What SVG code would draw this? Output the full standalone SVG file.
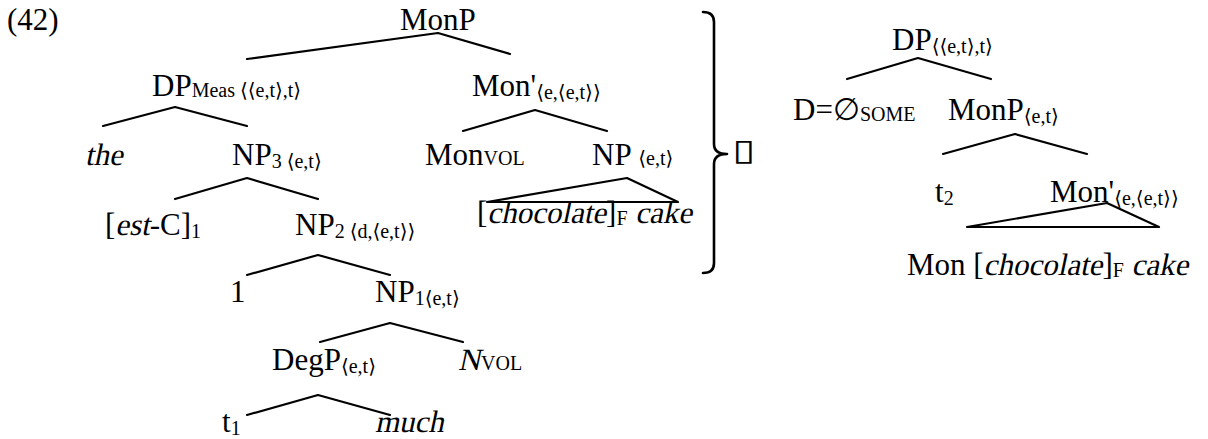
<svg xmlns="http://www.w3.org/2000/svg" width="1208" height="439" viewBox="0 0 1208 439">
<style>
text{font-family:"Liberation Serif","DejaVu Serif",serif;font-size:31px;fill:#000}
.s{font-size:20px}
.ln{stroke:#000;stroke-width:2.2;fill:none;stroke-linecap:round;stroke-linejoin:round}
</style>
<rect width="1208" height="439" fill="#fff"/>
<g id="connectors" class="ln">
<polyline points="247,59 438,33 510,54"/>
<polyline points="103,126 175,107 247,126"/>
<polyline points="463,131 535,110 607,131"/>
<polyline points="175,199 247,178 318,199"/>
<polygon points="487,202 627,178 678,202"/>
<polyline points="247,275 318,255 390,275"/>
<polyline points="320,342 390,323 463,342"/>
<polyline points="247,415 318,395 390,415"/>
<polyline points="847,79 918,58 991,79"/>
<polyline points="943,154 1015,134 1087,154"/>
<polygon points="967,227 1107,203 1159,227"/>
<path id="brace" d="M703,12 Q714,12 714,22 L714,144 Q714,154 727,154 Q714,154 714,164 L714,263 Q714,273 703,273" stroke-width="2.6"/>
</g>
<g id="label42"><text x="7" y="30">(42)</text></g>
<g id="n-monp"><text x="400" y="30">MonP</text></g>
<g id="n-dpmeas"><text x="152" y="96">DP<tspan class="s" dy="1">Meas ⟨⟨e,t⟩,t⟩</tspan></text></g>
<g id="n-monbar"><text x="472" y="96">Mon'<tspan class="s" dy="3">⟨e,⟨e,t⟩⟩</tspan></text></g>
<g id="n-the"><text transform="translate(85,165) skewX(-12)">the</text></g>
<g id="n-np3"><text x="232" y="165">NP<tspan class="s" dy="3">3 ⟨e,t⟩</tspan></text></g>
<g id="n-monvol"><text x="425" y="165">Mon<tspan class="s">VOL</tspan></text></g>
<g id="n-np"><text x="592" y="165">NP <tspan class="s">⟨e,t⟩</tspan></text></g>
<g id="n-choc">
<text x="477" y="223">[</text>
<text transform="translate(487.3,223) skewX(-12)">chocolate</text>
<text x="606.1" y="223">]<tspan class="s" dy="2">F</tspan></text>
<text transform="translate(635.3,223) skewX(-12)">cake</text>
</g>
<g id="n-est">
<text x="105" y="235">[</text>
<text transform="translate(115.3,235) skewX(-12)">est</text>
<text x="149.7" y="235">-C]<tspan class="s" dy="3">1</tspan></text>
</g>
<g id="n-np2"><text x="295" y="235">NP<tspan class="s" dy="3">2 ⟨d,⟨e,t⟩⟩</tspan></text></g>
<g id="n-1"><text x="230" y="302">1</text></g>
<g id="n-np1"><text x="375" y="302">NP<tspan class="s" dy="3">1⟨e,t⟩</tspan></text></g>
<g id="n-degp"><text x="272" y="370">DegP<tspan class="s" dy="3">⟨e,t⟩</tspan></text></g>
<g id="n-nvol">
<text transform="translate(458,370) skewX(-12)">N</text>
<text x="481" y="370" class="s">VOL</text>
</g>
<g id="n-t1"><text x="222" y="432">t<tspan class="s" dy="3">1</tspan></text></g>
<g id="n-much"><text transform="translate(375,432) skewX(-12)">much</text></g>
<g id="n-box"><text transform="translate(732,160) scale(1.4,1)" style="font-family:'DejaVu Sans',sans-serif;font-size:30px">▯</text></g>
<g id="n-dp2"><text x="892" y="50">DP<tspan class="s" dy="3">⟨⟨e,t⟩,t⟩</tspan></text></g>
<g id="n-dsome"><text x="793" y="120">D=∅<tspan class="s" dy="1">SOME</tspan></text></g>
<g id="n-monp2"><text x="948" y="120">MonP<tspan class="s" dy="3">⟨e,t⟩</tspan></text></g>
<g id="n-t2"><text x="935" y="202">t<tspan class="s" dy="3">2</tspan></text></g>
<g id="n-monbar2"><text x="1050" y="202">Mon'<tspan class="s" dy="3">⟨e,⟨e,t⟩⟩</tspan></text></g>
<g id="n-monchoc">
<text x="907" y="275">Mon [</text>
<text transform="translate(983.6,275) skewX(-12)">chocolate</text>
<text x="1102.4" y="275">]<tspan class="s" dy="2">F</tspan></text>
<text transform="translate(1131.6,275) skewX(-12)">cake</text>
</g>
</svg>
